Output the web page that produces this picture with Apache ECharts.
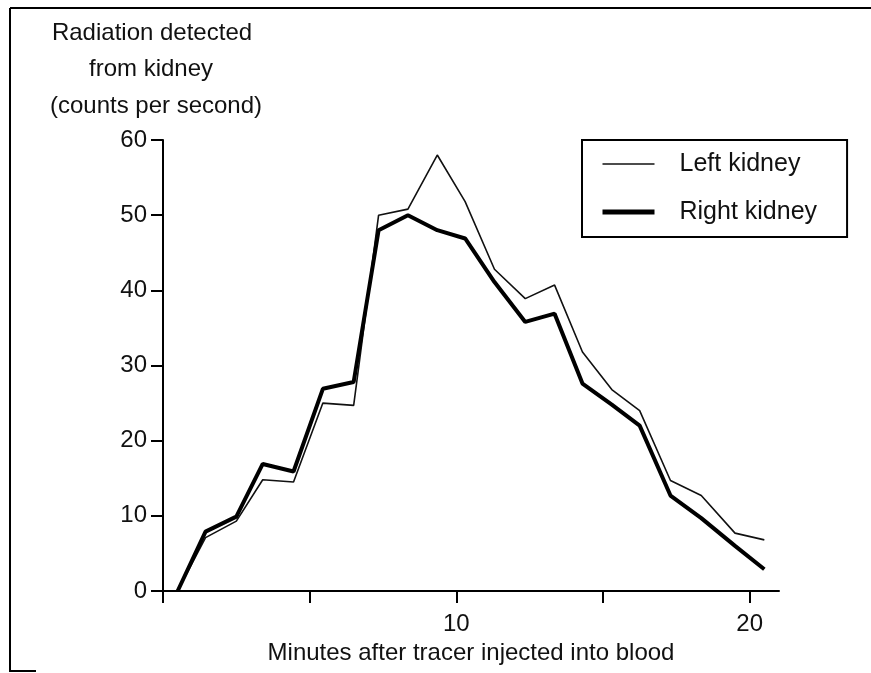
<!DOCTYPE html>
<html>
<head>
<meta charset="utf-8">
<title>Radiation detected from kidney</title>
<script src="https://cdn.jsdelivr.net/npm/echarts@6/dist/echarts.min.js"></script>
<style>
  html, body { margin: 0; padding: 0; background: #fff; }
  #chart { width: 871px; height: 673px; }
</style>
</head>
<body>
<div id="chart"></div>
<script>
// data
var minutes = [0.5, 1.45, 2.5, 3.4, 4.45, 5.45, 6.5, 7.35, 8.35, 9.35, 10.3, 11.3, 12.35, 13.35, 14.3, 15.3, 16.25, 17.3, 18.35, 19.5, 20.5];
var leftKidney = [0, 7.1, 9.3, 14.8, 14.5, 25, 24.7, 50, 50.8, 58, 51.8, 42.8, 38.9, 40.7, 31.8, 26.8, 24, 14.7, 12.7, 7.7, 6.8];
var rightKidney = [0, 7.9, 9.9, 16.9, 15.9, 26.9, 27.8, 48, 50, 48, 46.9, 41.1, 35.8, 36.9, 27.6, 24.8, 22, 12.7, 9.7, 6, 2.9];
var xTicks = [0, 5, 10, 15, 20];
var xLabels = [10, 20];
var yTitle = ['Radiation detected', 'from kidney', '(counts per second)'];

var font = "'Liberation Sans', Arial, Helvetica, sans-serif";

function pairs(xs, ys) {
  return xs.map(function (x, i) { return [x, ys[i]]; });
}

var myChart = echarts.init(document.getElementById('chart'), null, { renderer: 'canvas' });

// frame + y axis title
var graphics = [
  { type: 'line', shape: { x1: 10, y1: 8, x2: 10, y2: 672 }, style: { stroke: '#000', lineWidth: 2 } },
  { type: 'line', shape: { x1: 10, y1: 8, x2: 871, y2: 8 }, style: { stroke: '#000', lineWidth: 2 } },
  { type: 'line', shape: { x1: 10, y1: 671, x2: 36, y2: 671 }, style: { stroke: '#000', lineWidth: 2 } }
];
var titleX = [152, 151, 156];
yTitle.forEach(function (t, i) {
  graphics.push({
    type: 'text',
    x: titleX[i],
    y: 33 + i * 36.5,
    style: {
      text: t,
      fill: '#111',
      fontSize: 24,
      fontFamily: font,
      align: 'center',
      verticalAlign: 'middle'
    }
  });
});

var option = {
  backgroundColor: '#fff',
  animation: false,
  textStyle: { fontFamily: font, color: '#111' },
  grid: {
    left: 163,
    right: 92,
    top: 140,
    bottom: 82,
    containLabel: false,
    outerBoundsMode: 'none'
  },
  legend: {
    orient: 'vertical',
    left: 582,
    top: 140,
    padding: [11, 30, 12, 18],
    itemGap: 22,
    itemWidth: 52,
    itemHeight: 14,
    borderColor: '#000',
    borderWidth: 2,
    borderRadius: 0,
    selectedMode: false,
    // hide the marker dot, keep only the line
    itemStyle: { opacity: 0 },
    textStyle: {
      fontSize: 25,
      lineHeight: 26,
      color: '#111',
      fontFamily: font,
      padding: [0, 0, 0, 20]
    },
    data: [
      { name: 'Left kidney', lineStyle: { width: 1.6, color: '#111' } },
      { name: 'Right kidney', lineStyle: { width: 5, color: '#000' } }
    ]
  },
  xAxis: {
    type: 'value',
    min: 0,
    max: 21,
    interval: 5,
    name: 'Minutes after tracer injected into blood',
    nameLocation: 'middle',
    nameGap: 45,
    nameTextStyle: { fontSize: 24, color: '#111', fontFamily: font },
    splitLine: { show: false },
    axisLine: { lineStyle: { color: '#000', width: 2 } },
    axisTick: { inside: false, length: 12, lineStyle: { color: '#000', width: 2 }, customValues: xTicks },
    axisLabel: { fontSize: 24, color: '#111', margin: 21, customValues: xLabels }
  },
  yAxis: {
    type: 'value',
    min: 0,
    max: 60,
    interval: 10,
    splitLine: { show: false },
    axisLine: { lineStyle: { color: '#000', width: 2 } },
    axisTick: { inside: false, length: 12, lineStyle: { color: '#000', width: 2 } },
    axisLabel: { fontSize: 24, color: '#111', margin: 16 }
  },
  series: [
    {
      name: 'Left kidney',
      type: 'line',
      symbol: 'none',
      data: pairs(minutes, leftKidney),
      lineStyle: { color: '#111', width: 1.6 },
      itemStyle: { color: '#111' }
    },
    {
      name: 'Right kidney',
      type: 'line',
      symbol: 'none',
      data: pairs(minutes, rightKidney),
      lineStyle: { color: '#000', width: 4 },
      itemStyle: { color: '#000' }
    }
  ],
  graphic: graphics
};

myChart.setOption(option);
</script>
</body>
</html>
